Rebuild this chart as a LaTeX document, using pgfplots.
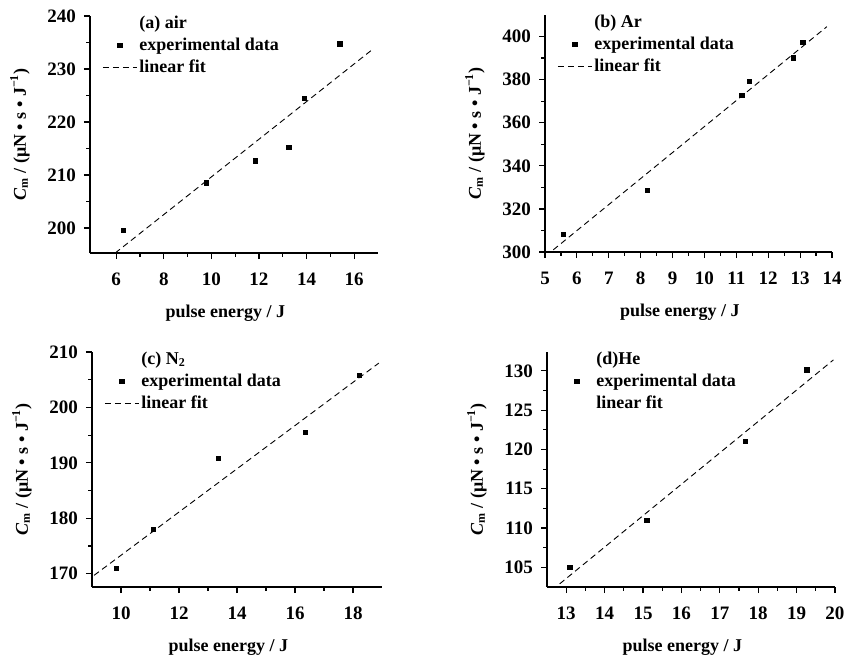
\documentclass[border=0pt]{standalone}
\usepackage{fontspec}
\setmainfont{Liberation Serif}
\usepackage{pgfplots}
\pgfplotsset{compat=1.18}

\pgfplotsset{
  panel/.style={
    scale only axis,
    anchor=south west,
    axis lines*=left,
    axis line style={line width=0.7pt},
    tick align=outside,
    tick style={black, line width=0.6pt},
    major tick length=3pt,
    minor tick length=1.8pt,
    minor tick num=1,
    font=\bfseries\fontsize{9}{11}\selectfont,
    /pgf/number format/assume math mode=true,
    ticklabel style={font=\bfseries\fontsize{9.5}{11}\selectfont},
    xticklabel style={yshift=-3.5pt},
    yticklabel style={xshift=-0.5pt},
    xlabel={pulse energy / J},
    ylabel={\textit{C}\textsubscript{m} / (μN • s • J\textsuperscript{−1})},
    x label style={at={(axis description cs:0.47,0)}, anchor=center, yshift=-30pt},
    y label style={at={(axis description cs:0,0.5)}, anchor=center, rotate=0, yshift=35pt},
    legend cell align=left,
    legend style={at={(axis description cs:0,1)}, anchor=north west,
      xshift=3pt, yshift=4pt, draw=none, fill=none,
      font=\bfseries\fontsize{9}{11}\selectfont,
      nodes={inner sep=1pt, text height=7pt, text depth=2pt}},
  },
  pts/.style={only marks, mark=square*, mark size=1.1pt, black},
  fit/.style={black, densely dashed, line width=0.45pt},
}

\begin{document}
\begin{tikzpicture}
\path[use as bounding box] (0,0) rectangle (422.5pt,327pt);

% (a) air
\begin{axis}[panel, at={(45pt,200.5pt)}, width=144pt, height=118.5pt,
  xmin=4.9, xmax=17, ymin=195.3, ymax=240,
  xtick={6,8,10,12,14,16}, ytick={200,210,220,230,240}]
\addlegendimage{empty legend}\addlegendentry{(a) air}
\addplot[pts] coordinates {
  (6.3,199.6) (9.8,208.5) (11.84,212.7) (13.25,215.2) (13.9,224.5) (15.4,234.7)};
\addlegendentry{experimental data}
\addplot[fit] coordinates {(5.96,195.3) (16.77,233.7)};
\addlegendentry{linear fit}
\end{axis}

% (b) Ar
\begin{axis}[panel, at={(272.5pt,201pt)}, width=143.5pt, height=118.5pt,
  xmin=5, xmax=14, ymin=300, ymax=410,
  xtick={5,6,...,14}, ytick={300,320,340,360,380,400}]
\addlegendimage{empty legend}\addlegendentry{(b) Ar}
\addplot[pts] coordinates {
  (5.58,308.3) (8.21,328.6) (11.17,372.6) (11.41,379.1) (12.79,390.0) (13.09,397.2)};
\addlegendentry{experimental data}
\addplot[fit] coordinates {(5.26,301) (13.84,404.6)};
\addlegendentry{linear fit}
\end{axis}

% (c) N2
\begin{axis}[panel, at={(46pt,33.5pt)}, width=145pt, height=117.5pt,
  xmin=9, xmax=19, ymin=167.6, ymax=210,
  xtick={10,12,14,16,18}, ytick={170,180,190,200,210}]
\addlegendimage{empty legend}\addlegendentry{(c) N\textsubscript{2}}
\addplot[pts] coordinates {
  (9.85,171.0) (11.12,178.0) (13.36,190.8) (16.35,195.5) (18.23,205.8)};
\addlegendentry{experimental data}
\addplot[fit] coordinates {(9.07,169.7) (18.89,208.0)};
\addlegendentry{linear fit}
\end{axis}

% (d) He -- no line sample beside "linear fit"
\begin{axis}[panel, at={(273.5pt,33.5pt)}, width=144pt, height=117.5pt,
  xmin=12.5, xmax=20, ymin=102.5, ymax=132.4,
  xtick={13,14,...,20}, ytick={105,110,115,120,125,130}]
\addlegendimage{empty legend}\addlegendentry{(d)He}
\addplot[pts] coordinates {
  (13.1,105.0) (15.1,111.0) (17.67,121.0) (19.27,130.1)};
\addlegendentry{experimental data}
\addplot[fit, forget plot] coordinates {(12.83,102.9) (19.96,131.4)};
\addlegendimage{line legend, draw opacity=0}\addlegendentry{linear fit}
\end{axis}
\end{tikzpicture}
\end{document}
